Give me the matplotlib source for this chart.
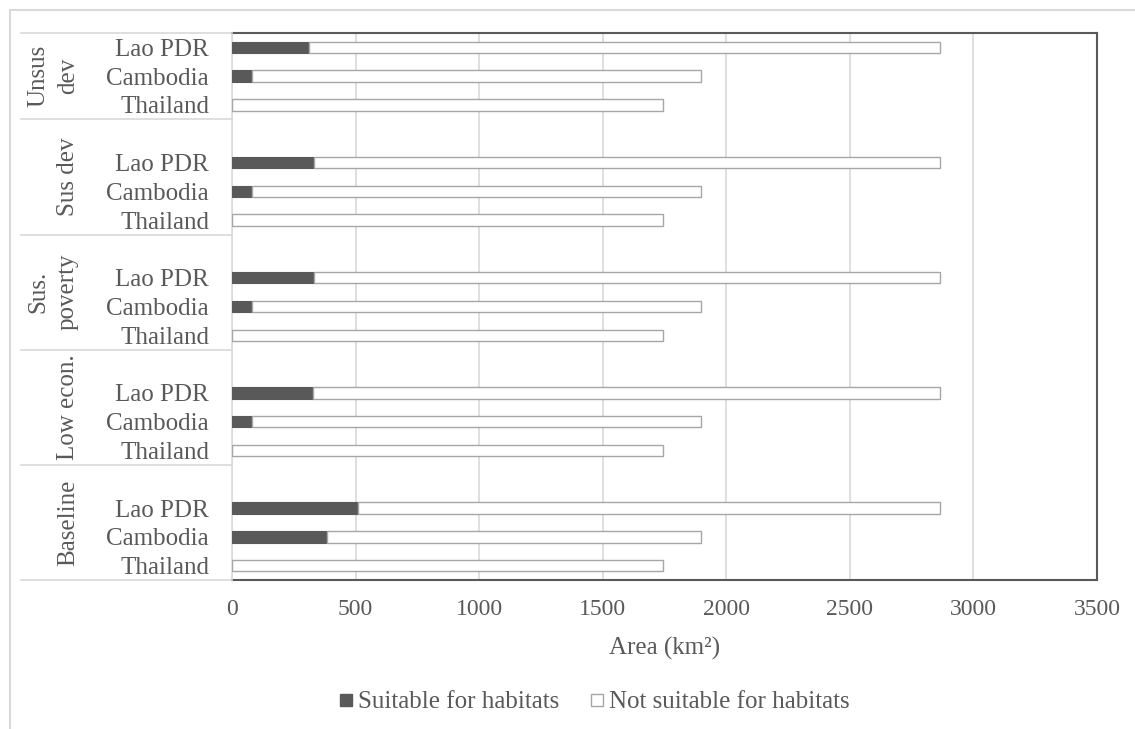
import matplotlib
matplotlib.use("Agg")
import matplotlib.pyplot as plt
from matplotlib.lines import Line2D
from matplotlib.transforms import blended_transform_factory
import numpy as np

plt.rcParams['font.family'] = ['Liberation Serif', 'DejaVu Serif']

scenarios = ["Baseline", "Low econ.", "Sus.\npoverty", "Sus dev", "Unsus\ndev"]
countries = ["Thailand", "Cambodia", "Lao PDR"]
# values per scenario, countries order: Thailand, Cambodia, Lao PDR
suitable = {
    "Baseline":      [0, 383, 509],
    "Low econ.":     [0, 82, 327],
    "Sus.\npoverty": [0, 82, 333],
    "Sus dev":       [0, 82, 332],
    "Unsus\ndev":    [0, 82, 312],
}
not_suitable = {
    "Baseline":      [1743, 1514, 2356],
    "Low econ.":     [1743, 1815, 2538],
    "Sus.\npoverty": [1743, 1815, 2532],
    "Sus dev":       [1743, 1815, 2533],
    "Unsus\ndev":    [1743, 1815, 2553],
}
xticks = [0, 500, 1000, 1500, 2000, 2500, 3000, 3500]

W, H = 1135, 729
fig = plt.figure(figsize=(W / 100, H / 100), dpi=100)
L, R, T, B = 232, 1097, 33, 580
ax = fig.add_axes([L / W, 1 - B / H, (R - L) / W, (B - T) / H])

txt = '#595959'
grid = '#d9d9d9'

ypos, ylabels = [], []
slot = 0
group_spans = []
for gi, sc in enumerate(scenarios):
    start = slot
    ys = np.arange(slot, slot + 3)
    ax.barh(ys, suitable[sc], height=0.4, color='#595959', edgecolor='#595959', linewidth=0.8, zorder=3)
    ax.barh(ys, not_suitable[sc], left=suitable[sc], height=0.4, color='white',
            edgecolor='#a6a6a6', linewidth=1.0, zorder=3)
    ypos.extend(ys)
    ylabels.extend(countries)
    slot += 3
    if gi < len(scenarios) - 1:
        slot += 1
    group_spans.append((start - 0.5, slot - 0.5))

ax.set_ylim(-0.5, slot - 0.5)
ax.set_xlim(0, 3500)
ax.set_xticks(xticks)
ax.set_xticklabels([str(v) for v in xticks])
ax.set_yticks(ypos)
ax.set_yticklabels(ylabels)
ax.tick_params(axis='y', length=0, pad=16.5, labelsize=18, labelcolor=txt)
ax.tick_params(axis='x', length=0, pad=14, labelsize=17, labelcolor=txt)
ax.grid(axis='x', color=grid, linewidth=1.2, zorder=0)
ax.set_axisbelow(True)
for s in ['top', 'right', 'bottom']:
    ax.spines[s].set_color('#595959')
    ax.spines[s].set_linewidth(1.5)
ax.spines['left'].set_color(grid)
ax.spines['left'].set_linewidth(1.2)

ax.set_xlabel('Area (km²)', fontsize=18, color=txt, labelpad=12)

# group separators and group labels
bt = blended_transform_factory(fig.transFigure, ax.transData)
edges = sorted(set([e for span in group_spans for e in span]))
for e in edges:
    fig.add_artist(Line2D([21 / W, L / W], [e, e], transform=bt, color=grid, linewidth=1.2))
for sc, (a, b) in zip(scenarios, group_spans):
    fig.text(79 / W, (a + b) / 2, sc, transform=bt, rotation=90, ha='right', va='center',
             multialignment='center', fontsize=18, color=txt, linespacing=1.45)

# outer chart border (partially cropped)
fig.add_artist(Line2D([10 / W, 10 / W], [0, 1 - 10 / H], transform=fig.transFigure, color=grid, linewidth=1.5))
fig.add_artist(Line2D([10 / W, 1], [1 - 10 / H, 1 - 10 / H], transform=fig.transFigure, color=grid, linewidth=1.5))

handles = [
    Line2D([], [], marker='s', linestyle='none', markersize=9, markerfacecolor='#595959',
           markeredgecolor='#595959', label='Suitable for habitats'),
    Line2D([], [], marker='s', linestyle='none', markersize=9, markerfacecolor='white',
           markeredgecolor='#a6a6a6', label='Not suitable for habitats'),
]
leg = fig.legend(handles=handles, loc='center', bbox_to_anchor=(594 / W, 1 - 702 / H), ncol=2,
                 frameon=False, fontsize=18, handlelength=0.6, handletextpad=0.2, columnspacing=1.2)
for t in leg.get_texts():
    t.set_color(txt)

fig.savefig('out.png', dpi=100)
